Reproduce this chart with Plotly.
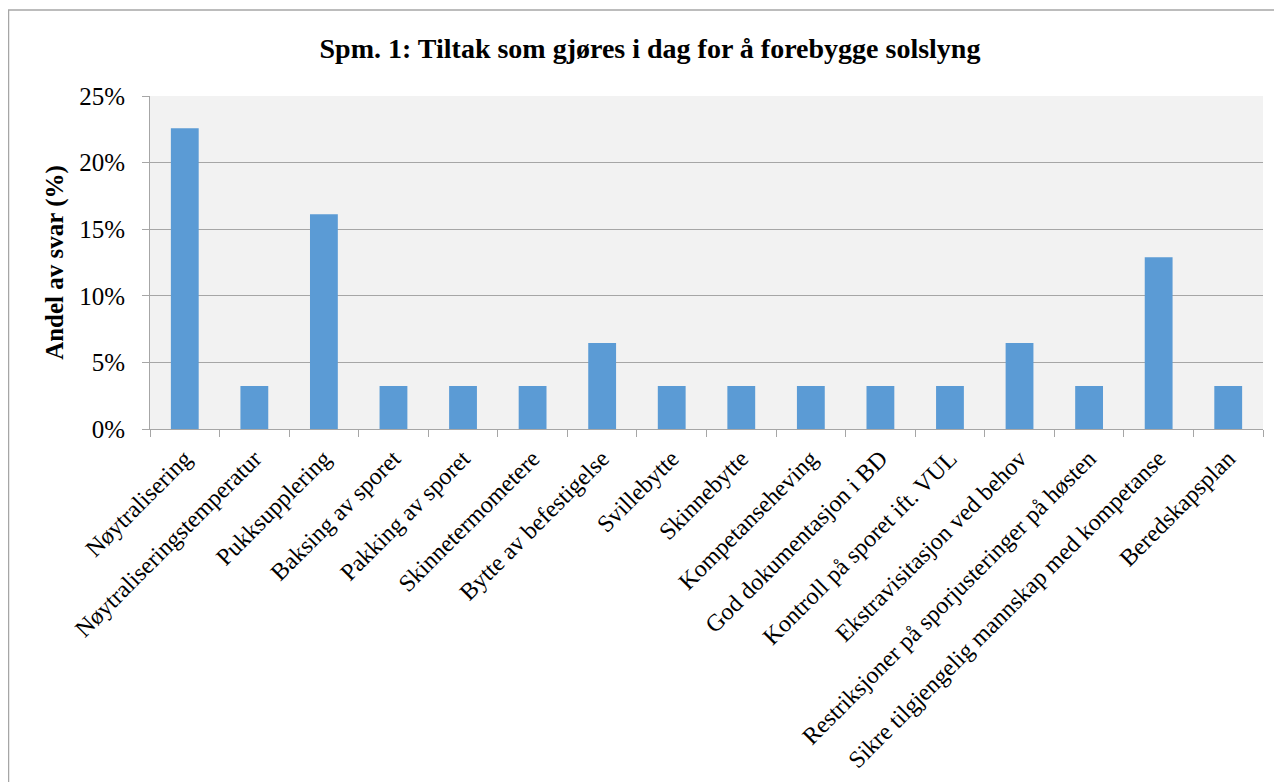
import plotly.graph_objects as go

categories = [
    "Nøytralisering", "Nøytraliseringstemperatur", "Pukksupplering", "Baksing av sporet",
    "Pakking av sporet", "Skinnetermometere", "Bytte av befestigelse", "Svillebytte",
    "Skinnebytte", "Kompetanseheving", "God dokumentasjon i BD", "Kontroll på sporet ift. VUL",
    "Ekstravisitasjon ved behov", "Restriksjoner på sporjusteringer på høsten",
    "Sikre tilgjengelig mannskap med kompetanse", "Beredskapsplan",
]
values = [0.2258, 0.0323, 0.1613, 0.0323, 0.0323, 0.0323, 0.0645, 0.0323,
          0.0323, 0.0323, 0.0323, 0.0323, 0.0645, 0.0323, 0.1290, 0.0323]
yticks = [0, 0.05, 0.10, 0.15, 0.20, 0.25]
ytick_labels = ["0%", "5%", "10%", "15%", "20%", "25%"]

# page has an 8px body margin, so the figure is sized/placed accordingly
W, H = 1274, 774
L, T, pw, ph = 142, 88, 1113, 333
R, B = W - L - pw, H - T - ph

fig = go.Figure(go.Bar(x=categories, y=values, marker_color="#5b9bd5",
                       marker_line_width=0, width=0.4))

font = "Liberation Serif, Times New Roman, serif"
fig.update_layout(
    width=W, height=H,
    margin=dict(l=L, r=R, t=T, b=B),
    paper_bgcolor="white", plot_bgcolor="#f2f2f2",
    font=dict(family=font, color="black"),
    title=dict(text="<b>Spm. 1: Tiltak som gjøres i dag for å forebygge solslyng</b>",
               x=(650 - 8) / W, xanchor="center", y=1 - 40 / H, yanchor="middle",
               font=dict(size=28, family=font)),
    showlegend=False,
    bargap=0.6,
)
fig.update_xaxes(
    type="category", tickangle=-45, tickfont=dict(size=24, family=font),
    ticklabelstandoff=5,
    showline=True, linecolor="#a6a6a6", linewidth=1,
    ticks="outside", tickson="boundaries", ticklen=7, tickcolor="#a6a6a6",
    showgrid=False, automargin=False,
)
fig.update_yaxes(
    range=[0, 0.25], tickvals=yticks, ticktext=ytick_labels,
    tickfont=dict(size=25, family=font), ticklabelstandoff=12,
    showline=True, linecolor="#a6a6a6", linewidth=1,
    ticks="outside", ticklen=7, tickcolor="#a6a6a6",
    showgrid=True, gridcolor="#a6a6a6", gridwidth=1, zeroline=False,
    title=dict(text="<b>Andel av svar (%)</b>", font=dict(size=25, family=font), standoff=8),
    automargin=False,
)
# outer chart frame (right and bottom edges lie beyond the visible page)
fx0, fx1, fy0, fy1 = 0.5, W + 30, 2, H + 30
fig.add_shape(type="rect", xref="paper", yref="paper",
              x0=(fx0 - L) / pw, x1=(fx1 - L) / pw,
              y0=(H - B - fy1) / ph, y1=(H - B - fy0) / ph,
              line=dict(color="#a6a6a6", width=1.5), fillcolor="rgba(0,0,0,0)", layer="below")
fig.write_html("out.html")
